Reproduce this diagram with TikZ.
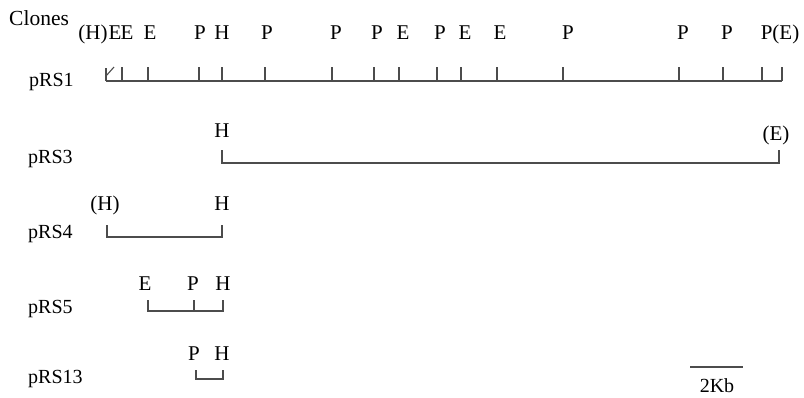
\documentclass[tikz,border=0pt]{standalone}
\usepackage{fontspec}
\setmainfont{Liberation Serif}
\begin{document}
\begin{tikzpicture}[x=1pt,y=-1pt,
  lbl/.style={inner sep=0pt, anchor=base, font=\fontsize{21}{21}\selectfont},
  clone/.style={inner sep=0pt, anchor=base west, font=\fontsize{20}{20}\selectfont},
  map/.style={line width=1.1pt, draw=black!70}]
\useasboundingbox (0,0) rectangle (804,397);
% header
\node[clone, font=\fontsize{21.5}{21.5}\selectfont] (clones) at (9,25) {Clones};
% clone names
\node[clone] (n1) at (29,86) {pRS1};
\node[clone] (n3) at (28,163) {pRS3};
\node[clone] (n4) at (28,238) {pRS4};
\node[clone] (n5) at (28,313) {pRS5};
\node[clone] (n13) at (28,383) {pRS13};
% top row labels
\foreach \x/\t [count=\i] in {93/(H),115/E,127/E,150/E,200/P,222/H,267/P,336/P,377/P,403/E,440/P,465/E,500/E,568/P,683/P,727/P,780/P(E)}
  \node[lbl] (L\i) at (\x,39) {\t};
% pRS1 map
\coordinate (s0) at (106,81);
\coordinate (s1) at (782,81);
\draw[map] (s0) -- (s1);
\coordinate (v0) at (106,68);
\draw[map] (v0) -- (s0);
\coordinate (d0) at (106,76);
\coordinate (d1) at (114,67);
\draw[map] (d0) -- (d1);
\foreach \x [count=\i] in {122,148,199,222,265,332,374,399,437,461,497,563,679,723,762,782} {
  \coordinate (tt\i) at (\x,67);
  \coordinate (tb\i) at (\x,81);
  \draw[map] (tt\i) -- (tb\i);
}
% pRS3
\node[lbl] (h3) at (222,137) {H};
\node[lbl] (e3) at (776,140) {(E)};
\coordinate (a3) at (222,150);
\coordinate (b3) at (222,163);
\coordinate (c3) at (779,163);
\coordinate (d3) at (779,150);
\draw[map] (a3) -- (b3) -- (c3) -- (d3);
% pRS4
\node[lbl] (h4a) at (105,210) {(H)};
\node[lbl] (h4b) at (222,210) {H};
\coordinate (a4) at (107,225);
\coordinate (b4) at (107,237);
\coordinate (c4) at (222,237);
\coordinate (d4) at (222,225);
\draw[map] (a4) -- (b4) -- (c4) -- (d4);
% pRS5
\node[lbl] (e5) at (145,290) {E};
\node[lbl] (p5) at (193,290) {P};
\node[lbl] (h5) at (223,290) {H};
\coordinate (a5) at (148,300);
\coordinate (b5) at (148,311);
\coordinate (c5) at (223,311);
\coordinate (d5) at (223,300);
\coordinate (m5a) at (194,300);
\coordinate (m5b) at (194,311);
\draw[map] (a5) -- (b5) -- (c5) -- (d5);
\draw[map] (m5a) -- (m5b);
% pRS13
\node[lbl] (p13) at (194,360) {P};
\node[lbl] (h13) at (222,360) {H};
\coordinate (a13) at (196,370);
\coordinate (b13) at (196,379);
\coordinate (c13) at (223,379);
\coordinate (d13) at (223,370);
\draw[map] (a13) -- (b13) -- (c13) -- (d13);
% scale bar
\coordinate (sb0) at (690,367);
\coordinate (sb1) at (743,367);
\draw[map] (sb0) -- (sb1);
\node[lbl, font=\fontsize{20}{20}\selectfont] (kb) at (717,392) {2Kb};
\end{tikzpicture}
\end{document}
